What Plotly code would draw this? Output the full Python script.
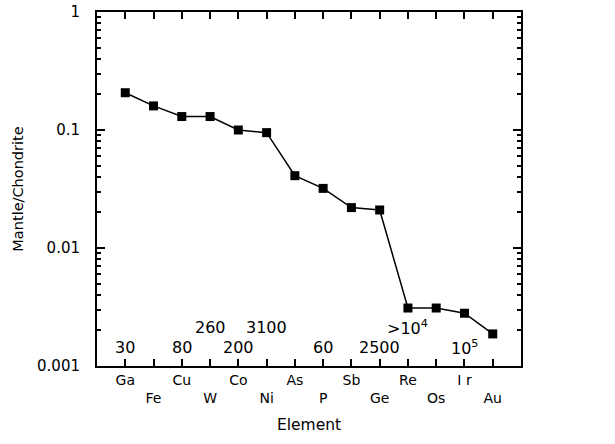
import plotly.graph_objects as go

elements = ["Ga", "Fe", "Cu", "W", "Co", "Ni", "As", "P", "Sb", "Ge", "Re", "Os", "Ir", "Au"]
mantle_chondrite = [0.207, 0.16, 0.13, 0.13, 0.10, 0.095, 0.041, 0.032, 0.022, 0.021, 0.0031, 0.0031, 0.0028, 0.00187]

# numeric labels above the x axis: (element, text, row)
label_elements = ["Ga", "Cu", "W", "Co", "Ni", "P", "Ge", "Re", "Ir"]
label_texts = ["30", "80", "260", "200", "3100", "60", "2500", ">10<sup>4</sup>", "10<sup>5</sup>"]
label_rows = [0, 0, 1, 0, 1, 0, 0, 1, 0]

y_tickvals = [0.001, 0.01, 0.1, 1]
y_ticktext = ["0.001", "0.01", "0.1", "1"]

FONT = "DejaVu Sans"
BLACK = "black"

tick_text = [("<br>" + e if i % 2 else e) for i, e in enumerate(elements)]
tick_text = [t.replace("Ir", "I r") for t in tick_text]

fig = go.Figure()
fig.add_trace(go.Scatter(
    x=elements, y=mantle_chondrite, mode="lines+markers",
    line=dict(color=BLACK, width=1.5),
    marker=dict(symbol="square", size=9, color=BLACK),
    showlegend=False,
))

row_y = [-2.84, -2.67]
for e, t, r in zip(label_elements, label_texts, label_rows):
    fig.add_annotation(x=e, y=row_y[r], xref="x", yref="y", text=t, showarrow=False,
                       font=dict(family=FONT, size=16, color=BLACK), yanchor="middle")

fig.update_layout(
    template="none",
    width=615, height=444,
    margin=dict(l=97, r=94, t=12, b=78),
    paper_bgcolor="white", plot_bgcolor="white",
    font=dict(family=FONT, color=BLACK),
)
fig.update_xaxes(
    type="category", range=[-1, 14], automargin=False,
    tickmode="array", tickvals=elements, ticktext=tick_text,
    ticks="inside", ticklen=7, tickcolor=BLACK, tickwidth=2,
    showline=True, linecolor=BLACK, linewidth=2, mirror="ticks",
    showgrid=False, zeroline=False, tickfont=dict(family=FONT, size=14, color=BLACK),
    title=dict(text="Element", font=dict(family=FONT, size=15.5, color=BLACK), standoff=14),
)
fig.update_yaxes(
    type="log", range=[-3, 0], automargin=False,
    tickmode="array", tickvals=y_tickvals, ticktext=y_ticktext,
    ticks="inside", ticklen=8, tickcolor=BLACK, tickwidth=2,
    minor=dict(dtick="D1", ticks="inside", ticklen=4, tickcolor=BLACK, tickwidth=1.5, showgrid=False),
    showline=True, linecolor=BLACK, linewidth=2, mirror="ticks",
    showgrid=False, zeroline=False, tickfont=dict(family=FONT, size=15, color=BLACK), ticklabelstandoff=12,
    title=dict(text="Mantle/Chondrite", font=dict(family=FONT, size=14.5, color=BLACK), standoff=10),
)

fig.write_html("out.html", config={"displayModeBar": False},
               post_script="document.body.style.margin='0';")
